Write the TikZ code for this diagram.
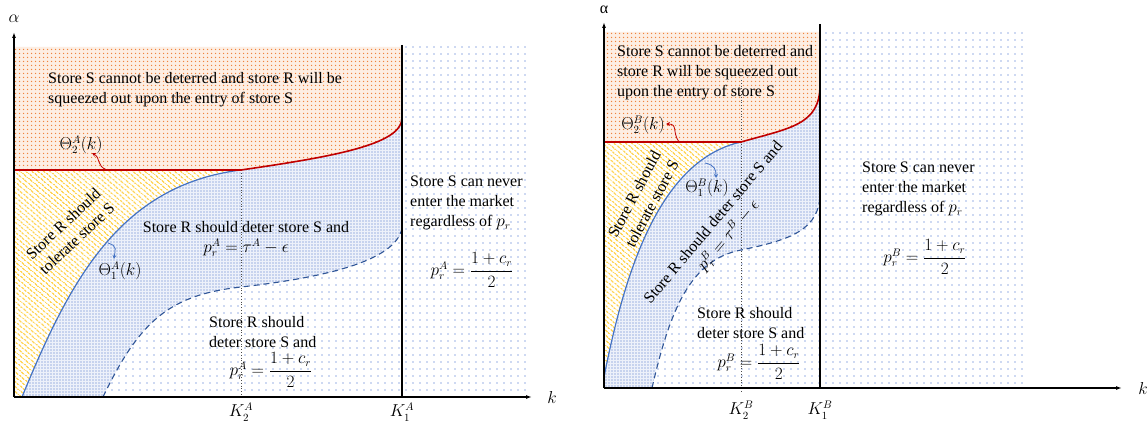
\documentclass[tikz,border=0pt]{standalone}
\usepackage{amsmath,amssymb}
\usepackage{fontspec}
\setmainfont{Liberation Serif}
\usepackage{tikz}
\usetikzlibrary{patterns,patterns.meta,arrows.meta}
\definecolor{redcurve}{HTML}{C00000}
\definecolor{bluecurve}{HTML}{4472C4}
\definecolor{bluedash}{HTML}{2F5597}
\definecolor{orangedot}{HTML}{F0843E}
\definecolor{orangebg}{HTML}{FDEEE3}
\definecolor{yellowhatch}{HTML}{FFC000}
\definecolor{bluedot}{HTML}{4A70C8}
\definecolor{bluebg}{HTML}{EDF1FA}
\definecolor{sparsedot}{HTML}{9DB3E6}
\newcommand{\txtsize}{\fontsize{16}{20}\selectfont}

\begin{document}
\begin{tikzpicture}[x=1pt,y=-1pt,
  every node/.style={font=\txtsize,inner sep=1pt},
  odots/.style={preaction={fill=orangebg},pattern={Dots[distance=4pt,radius=0.9pt]},pattern color=orangedot},
  bdots/.style={preaction={fill=bluebg},pattern={Dots[distance=3pt,radius=0.65pt]},pattern color=bluedot},
  sdots/.style={pattern={Dots[distance=7pt,radius=0.8pt]},pattern color=sparsedot},
  hatch/.style={pattern={Lines[angle=-40,distance=4pt,line width=1.2pt]},pattern color=yellowhatch},
  redline/.style={redcurve,line width=1.6pt},
  blueline/.style={bluecurve,line width=1.2pt},
  dashline/.style={bluedash,line width=1.1pt,dash pattern=on 6pt off 4pt},
  kline/.style={black!70,line width=0.8pt,dotted},
  axis/.style={black,line width=1.3pt,-{Latex[length=6pt,width=4pt]}},
  pointer/.style={line width=0.8pt,-{Stealth[length=4pt,width=4pt]}}]

\fill[white] (0,0) rectangle (1148,425);
\useasboundingbox (0,0) rectangle (1148,425);

%%% panel A
\fill[sdots] (103,397) .. controls (140,320) and (170,295) .. (241,287) .. controls (320,278) and (396,262) .. (402,228) -- (402,397) -- cycle;
\fill[sdots] (402,47) rectangle (530,397);
\fill[bdots] (22,397) .. controls (70,280) and (120,185) .. (241,170) .. controls (330,157) and (402,145) .. (402,118) -- (402,228) .. controls (396,262) and (320,278) .. (241,287) .. controls (170,295) and (140,320) .. (103,397) -- cycle;
\fill[hatch] (14,170) -- (241,170) .. controls (120,185) and (70,280) .. (22,397) -- (14,397) -- cycle;
\fill[odots] (14,47) -- (402,47) -- (402,118) .. controls (402,145) and (330,157) .. (241,170) -- (14,170) -- cycle;

\coordinate (oA) at (14,397);
\coordinate (yA) at (14,32);
\coordinate (xA) at (532,397);
\coordinate (k2At) at (241,170);
\coordinate (k1At) at (402,45);

\draw[kline] (k2At) -- (241,399);
\draw[dashline] (103,397) .. controls (140,320) and (170,295) .. (241,287) .. controls (320,278) and (396,262) .. (402,228);
\draw[blueline] (22,397) .. controls (70,280) and (120,185) .. (k2At);
\draw[redline] (14,170) -- (k2At) .. controls (330,157) and (402,145) .. (402,118);
\draw[black,line width=1.3pt] (k1At) -- (k1At |- oA);
\draw[axis] (oA) -- (xA);
\draw[axis] (oA) -- (yA);

\node (alA) at (14,19) {$\alpha$};
\node (kA) at (552,397) {$k$};
\node (K2A) at (241,412) {$K_2^A$};
\node (K1A) at (402,412) {$K_1^A$};

\node[align=left,anchor=west] (squeezeA) at (47,90) {Store S cannot be deterred and store R will be\\squeezed out upon the entry of store S};
\node (th2A) at (81,145) {$\Theta_2^A(k)$};
\coordinate (p2A) at (107,170);
\draw[pointer,redcurve] (p2A) .. controls (96,166) and (101,158) .. (92,153);

\node[rotate=43,align=center] (tolA) at (70,231) {Store R should\\tolerate store S};
\node (th1A) at (120,271) {$\Theta_1^A(k)$};
\coordinate (p1A) at (108,243);
\draw[pointer,bluecurve] (p1A) .. controls (118,246) and (115,250) .. (114,259);

\node[align=center] (detA) at (246,239) {Store R should deter store S and\\$p_r^A=\tau^A-\epsilon$};
\node[align=left,anchor=west] (monA) at (208,332) {Store R should\\deter store S and};
\node (fmA) at (271,370) {$p_r^A=\dfrac{1+c_r}{2}$};

\node[align=left,anchor=west] (neverA) at (409,203) {Store S can never\\enter the market\\regardless of $p_r$};
\node (fnA) at (472,270) {$p_r^A=\dfrac{1+c_r}{2}$};

%%% panel B
\fill[sdots] (652,388) .. controls (670,310) and (690,260) .. (741,250) .. controls (790,240) and (820,230) .. (820,193) -- (820,388) -- cycle;
\fill[sdots] (820,32) rectangle (1027,388);
\fill[bdots] (604,377) .. controls (625,270) and (660,160) .. (741,142) .. controls (790,128) and (820,125) .. (820,85) -- (820,193) .. controls (820,230) and (790,240) .. (741,250) .. controls (690,260) and (670,310) .. (652,388) -- (604,388) -- cycle;
\fill[hatch] (604,142) -- (741,142) .. controls (660,160) and (625,270) .. (604,377) -- cycle;
\fill[odots] (604,32) -- (820,32) -- (820,85) .. controls (820,125) and (790,128) .. (741,142) -- (604,142) -- cycle;

\coordinate (oB) at (604,388);
\coordinate (yB) at (604,22);
\coordinate (xB) at (1122,388);
\coordinate (k2Bt) at (741,142);
\coordinate (k1Bt) at (820,24);

\draw[kline] (741,80) -- (741,391);
\draw[dashline] (652,388) .. controls (670,310) and (690,260) .. (741,250) .. controls (790,240) and (820,230) .. (820,193);
\draw[blueline] (604,377) .. controls (625,270) and (660,160) .. (k2Bt);
\draw[redline] (604,142) -- (k2Bt) .. controls (790,128) and (820,125) .. (820,85);
\draw[black,line width=1.3pt] (k1Bt) -- (k1Bt |- oB);
\draw[axis] (oB) -- (xB);
\draw[axis] (oB) -- (yB);

\node (alB) at (604,10) {α};
\node (kB) at (1143,388) {$k$};
\node (K2B) at (741,410) {$K_2^B$};
\node (K1B) at (820,410) {$K_1^B$};

\node[align=left,anchor=west] (squeezeB) at (616,73) {Store S cannot be deterred and\\store R will be squeezed out\\upon the entry of store S};
\node (th2B) at (643,125) {$\Theta_2^B(k)$};
\coordinate (p2B) at (679,142);
\draw[pointer,redcurve] (p2B) .. controls (672,132) and (678,124) .. (666,124);

\node[rotate=62,align=center] (tolB) at (643,199) {Store R should\\tolerate store S};
\node (th1B) at (707,188) {$\Theta_1^B(k)$};
\coordinate (p1B) at (705,163);
\draw[pointer,bluecurve] (p1B) .. controls (715,165) and (716,170) .. (716,178);

\node[rotate=50,align=center] (detB) at (722,230) {Store R should deter store S and\\$p_r^B=\tau^B-\epsilon$};
\node[align=left,anchor=west] (monB) at (696,323) {Store R should\\deter store S and};
\node (fmB) at (759,362) {$p_r^B=\dfrac{1+c_r}{2}$};

\node[align=left,anchor=west] (neverB) at (861,189) {Store S can never\\enter the market\\regardless of $p_r$};
\node (fnB) at (925,257) {$p_r^B=\dfrac{1+c_r}{2}$};
\end{tikzpicture}
\end{document}
